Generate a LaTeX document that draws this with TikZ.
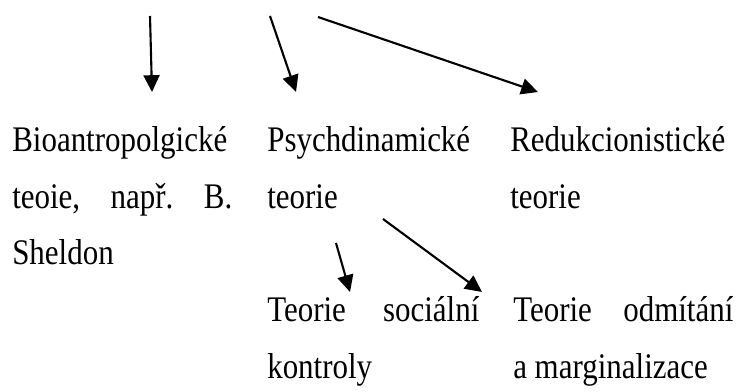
\documentclass[tikz,border=0pt]{standalone}
\usepackage{fontspec}
\setmainfont[FakeStretch=0.86]{Liberation Serif}
\usetikzlibrary{arrows.meta}

\begin{document}
\begin{tikzpicture}[x=0.025cm, y=-0.025cm,
  cell/.style={anchor=north west, inner sep=0pt, align=flush left,
    font=\fontsize{25.6pt}{40.2pt}\selectfont},
  link/.style={line width=1.5pt, -{Triangle[length=4.2mm, width=4mm]}}]
\useasboundingbox (0,0) rectangle (740,392);

% Upper row
\node[cell, text width=5.5cm] (bio) at (12,112)
  {\strut Bioantropolgické\\teoie,\hfill např.\hfill B.\\Sheldon};
\node[cell, text width=5.3cm] (psy) at (267,112)
  {\strut Psychdinamické\\teorie};
\node[cell, text width=5.6cm] (red) at (510,112)
  {\strut Redukcionistické\\teorie};

% Lower row
\node[cell, text width=5.3cm] (soc) at (267,282)
  {\strut Teorie\hfill sociální\\kontroly};
\node[cell, text width=5.5cm] (odm) at (513,282)
  {\strut Teorie\hfill odmítání\\a marginalizace};

% Arrow ends
\coordinate (bioS) at (150,16);  \coordinate (bioT) at (152,92);
\coordinate (psyS) at (270,16);  \coordinate (psyT) at (296,92);
\coordinate (redS) at (318,17);  \coordinate (redT) at (538,92);
\coordinate (socS) at (336,243); \coordinate (socT) at (350,292);
\coordinate (odmS) at (383,219); \coordinate (odmT) at (482,292);

% Arrows
\draw[link] (bioS) -- (bioT);
\draw[link] (psyS) -- (psyT);
\draw[link] (redS) -- (redT);
\draw[link] (socS) -- (socT);
\draw[link] (odmS) -- (odmT);
\end{tikzpicture}
\end{document}
